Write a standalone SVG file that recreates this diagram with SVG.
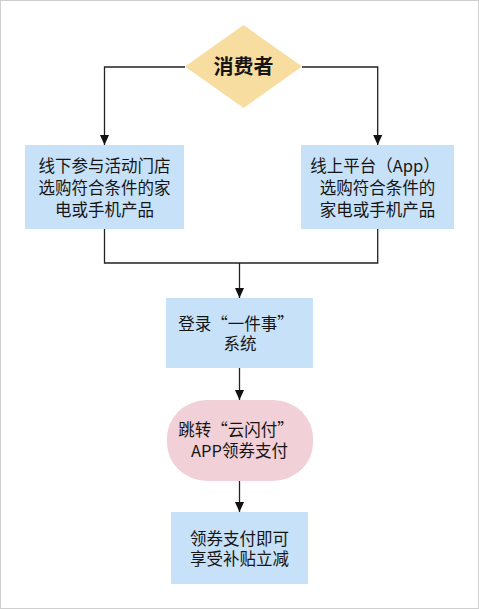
<svg xmlns="http://www.w3.org/2000/svg" width="479" height="609" viewBox="0 0 479 609">
<defs>
<marker id="ah" markerUnits="userSpaceOnUse" markerWidth="10" markerHeight="11" refX="11" refY="5" orient="auto" viewBox="0 0 11 10">
<path d="M0,0 L11,5 L0,10 Z" fill="#111"/>
</marker>
</defs>
<style>
.t{font-family:"Noto Sans CJK SC","Noto Sans",sans-serif;font-size:16.5px;fill:#151515;text-anchor:middle}
.big{font-size:20px;font-weight:bold}
.blue{fill:#C7E1F8}
.c{fill:none;stroke:#222;stroke-width:1.3}
</style>
<rect x="0.5" y="0.5" width="478" height="608" fill="#fff" stroke="#cfcfcf" stroke-width="1"/>
<g id="connectors">
<path class="c" d="M185,67 H104.5 V145" marker-end="url(#ah)"/>
<path class="c" d="M302,67 H377.7 V145" marker-end="url(#ah)"/>
<path class="c" d="M104.5,229 V263 H377.7 V229"/>
<path class="c" d="M239.5,263 V298" marker-end="url(#ah)"/>
<path class="c" d="M239.5,368 V400" marker-end="url(#ah)"/>
<path class="c" d="M239.5,481 V512" marker-end="url(#ah)"/>
</g>
<g id="consumer">
<polygon points="243.5,25 302,66.5 243.5,108 185,66.5" fill="#F8DDA0"/>
<text class="t big" x="243.5" y="73.5">消费者</text>
</g>
<g id="offline">
<rect class="blue" x="25" y="145" width="159" height="84"/>
<text class="t" x="104.5" y="172"><tspan x="104.5">线下参与活动门店</tspan><tspan x="104.5" dy="22">选购符合条件的家</tspan><tspan x="104.5" dy="21.5">电或手机产品</tspan></text>
</g>
<g id="online">
<rect class="blue" x="301" y="145" width="153" height="84"/>
<text class="t" x="375" y="172"><tspan x="375">线上平台（App）</tspan><tspan x="377.5" dy="22">选购符合条件的</tspan><tspan x="377.5" dy="21.5">家电或手机产品</tspan></text>
</g>
<g id="login">
<rect class="blue" x="166" y="298" width="147" height="70"/>
<text class="t" x="236" y="329.5"><tspan x="236">登录“一件事”</tspan><tspan x="240" dy="20">系统</tspan></text>
</g>
<g id="jump">
<rect x="167" y="400" width="146" height="81" rx="40" ry="38" fill="#F1D0D7"/>
<text class="t" x="236" y="436"><tspan x="236">跳转“云闪付”</tspan><tspan x="239.5" dy="21">APP领券支付</tspan></text>
</g>
<g id="pay">
<rect class="blue" x="171" y="512" width="137" height="72"/>
<text class="t" x="239.5" y="544.5"><tspan x="239.5">领券支付即可</tspan><tspan x="239.5" dy="20.5">享受补贴立减</tspan></text>
</g>
</svg>
